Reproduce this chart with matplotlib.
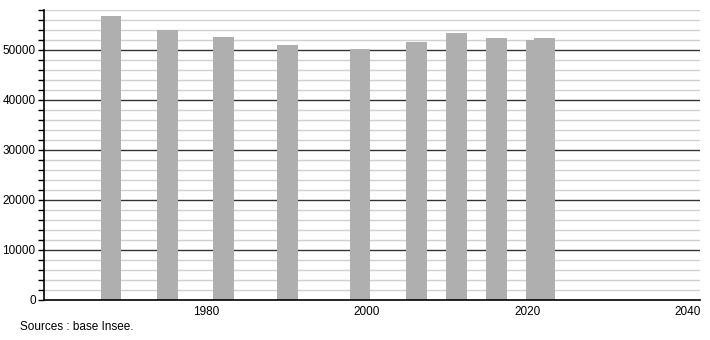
import numpy as np
import matplotlib.pyplot as plt
from matplotlib.ticker import MultipleLocator

years = [1968, 1975, 1982, 1990, 1999, 2006, 2011, 2016, 2021, 2022]
population = [56860, 54000, 52600, 51000, 50200, 51660, 53400, 52400, 52070, 52470]
xticks = [1980, 2000, 2020, 2040]
yticks = [0, 10000, 20000, 30000, 40000, 50000]

plt.rcParams['font.family'] = ['Liberation Sans', 'DejaVu Sans']
plt.rcParams['font.size'] = 8.5

fig = plt.figure(figsize=(7.1, 3.4), dpi=100)
ax = fig.add_axes([44 / 710, 1 - 300 / 340, 656 / 710, 290 / 340])

# minor grid every 2000, major every 10000
for v in np.arange(2000, 58001, 2000):
    if v % 10000 == 0:
        ax.axhline(v, color='#333333', lw=1.0, zorder=1)
    else:
        ax.axhline(v, color='#d0d0d0', lw=1.0, zorder=1)

ax.bar(np.array(years) - 1.15, population, width=2.6, align='edge', color='#afafaf', zorder=2)

ax.set_xlim(1959.8, 2041.5)
ax.set_ylim(0, 58000)
ax.set_xticks(xticks)
ax.set_yticks(yticks)
ax.set_yticklabels([str(v) for v in yticks])
ax.yaxis.set_minor_locator(MultipleLocator(2000))
ax.tick_params(axis='x', length=0, pad=4)
ax.tick_params(axis='y', which='both', length=4, width=1, direction='out', pad=2)

for s in ['top', 'right']:
    ax.spines[s].set_visible(False)
ax.spines['left'].set_linewidth(1.2)
ax.spines['bottom'].set_linewidth(1.2)

fig.text(20 / 710, 1 - 327 / 340, "Sources : base Insee.", fontsize=8.5, va='center', ha='left')

fig.savefig('out.png', dpi=100)
